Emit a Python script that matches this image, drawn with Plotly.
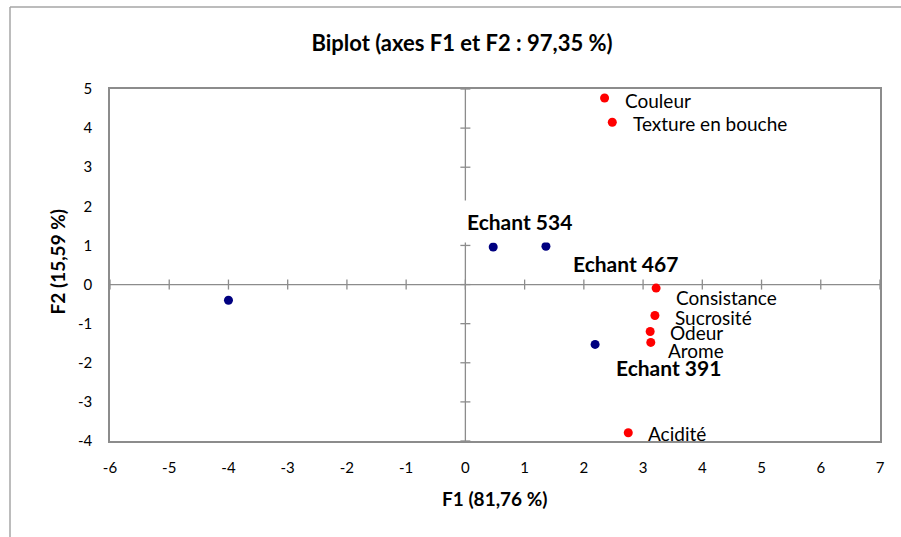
import plotly.graph_objects as go

# ---- data ----
obs_x = [-4.00, 0.47, 1.36, 2.19]
obs_y = [-0.40, 0.96, 0.98, -1.53]
obs_labels = ["", "Echant 534", "Echant 467", "Echant 391"]

var_names = ["Couleur", "Texture en bouche", "Consistance", "Sucrosité", "Odeur", "Arome", "Acidité"]
var_x = [2.35, 2.48, 3.22, 3.20, 3.12, 3.13, 2.75]
var_y = [4.77, 4.15, -0.09, -0.79, -1.20, -1.48, -3.79]

x_ticks = [-6, -5, -4, -3, -2, -1, 0, 1, 2, 3, 4, 5, 6, 7]
y_ticks = [-4, -3, -2, -1, 0, 1, 2, 3, 4, 5]

# label offsets (pixels): (xshift, yshift) from the point
var_off = [(18, -2), (19, -1), (18, -9), (18, -2), (18, -1), (15, -8), (18, -1)]
obs_off = [(0, 0), (-35, 26), (18, -17), (12, -23)]

FONT = "Lato"
W, H = 901, 537
L, R, T, B = 110, 21, 89, 96

fig = go.Figure()

# zero lines (axes crossing at 0)
fig.add_shape(type="line", xref="x", yref="y", x0=x_ticks[0], x1=x_ticks[-1], y0=0, y1=0,
              line=dict(color="#8c8c8c", width=1.3), layer="below")
fig.add_shape(type="line", xref="x", yref="y", x0=0, x1=0, y0=y_ticks[0], y1=y_ticks[-1],
              line=dict(color="#8c8c8c", width=1.3), layer="below")
# cross tick marks
for tx in x_ticks:
    fig.add_shape(type="line", xref="x", yref="y", ysizemode="pixel", yanchor=0,
                  x0=tx, x1=tx, y0=-5, y1=5, line=dict(color="#8c8c8c", width=1.3), layer="below")
for ty in y_ticks:
    fig.add_shape(type="line", xref="x", yref="y", xsizemode="pixel", xanchor=0,
                  y0=ty, y1=ty, x0=-5, x1=5, line=dict(color="#8c8c8c", width=1.3), layer="below")

# outer chart frame
fx0 = (10 - L) / (W - L - R)
fy0 = (H - B - 7) / (H - T - B)
fig.add_shape(type="line", xref="paper", yref="paper", x0=fx0, x1=1.2, y0=fy0, y1=fy0,
              line=dict(color="#a6a6a6", width=1.5))
fig.add_shape(type="line", xref="paper", yref="paper", x0=fx0, x1=fx0, y0=fy0, y1=-0.5,
              line=dict(color="#a6a6a6", width=1.5))

fig.add_trace(go.Scatter(x=obs_x, y=obs_y, mode="markers",
                         marker=dict(color="#000080", size=9), hoverinfo="skip"))
fig.add_trace(go.Scatter(x=var_x, y=var_y, mode="markers",
                         marker=dict(color="#ff0000", size=9), hoverinfo="skip"))

for name, x, y, (dx, dy) in zip(var_names, var_x, var_y, var_off):
    fig.add_annotation(x=x, y=y, text=name, showarrow=False, xanchor="left", yanchor="middle",
                       xshift=dx, yshift=dy, font=dict(family=FONT, size=19, color="#000000"))

for name, x, y, (dx, dy) in zip(obs_labels, obs_x, obs_y, obs_off):
    if not name:
        continue
    fig.add_annotation(x=x, y=y, text="<b>" + name + "</b>", showarrow=False, xanchor="left",
                       yanchor="middle", xshift=dx, yshift=dy,
                       bgcolor="#ffffff" if name == "Echant 534" else None, borderpad=8,
                       font=dict(family=FONT, size=21, color="#000000"))

# axis titles
fig.add_annotation(xref="paper", yref="paper", x=0.5, y=(H - B - 498) / (H - T - B),
                   text="<b>F1 (81,76 %)</b>", showarrow=False, xanchor="center", yanchor="middle",
                   font=dict(family=FONT, size=19, color="#000000"))
fig.add_annotation(xref="paper", yref="paper", x=(57 - L) / (W - L - R), y=0.51,
                   text="<b>F2 (15,59 %)</b>", showarrow=False, textangle=-90,
                   xanchor="center", yanchor="middle",
                   font=dict(family=FONT, size=19, color="#000000"))

fig.update_layout(
    width=W, height=H, autosize=False,
    margin=dict(l=L, r=R, t=T, b=B, pad=0),
    paper_bgcolor="#ffffff", plot_bgcolor="#ffffff",
    showlegend=False,
    title=dict(text="<b>Biplot (axes F1 et F2 : 97,35 %)</b>", x=462 / W, xanchor="center",
               y=1 - 43 / H, yanchor="middle", font=dict(family=FONT, size=22, color="#000000")),
    font=dict(family=FONT, size=15, color="#000000"),
)
fig.update_xaxes(range=[x_ticks[0], x_ticks[-1]], tickvals=x_ticks, ticktext=[str(v) for v in x_ticks],
                 showgrid=False, zeroline=False,
                 showline=True, mirror=True, linecolor="#8c8c8c", linewidth=1.6,
                 ticks="", ticklabelstandoff=12, tickfont=dict(family=FONT, size=15, color="#000000"))
fig.update_yaxes(range=[y_ticks[0], y_ticks[-1]], tickvals=y_ticks, ticktext=[str(v) for v in y_ticks],
                 showgrid=False, zeroline=False,
                 showline=True, mirror=True, linecolor="#8c8c8c", linewidth=1.6,
                 ticks="", ticklabelstandoff=13, tickfont=dict(family=FONT, size=15, color="#000000"))

fig.write_html("out.html")
